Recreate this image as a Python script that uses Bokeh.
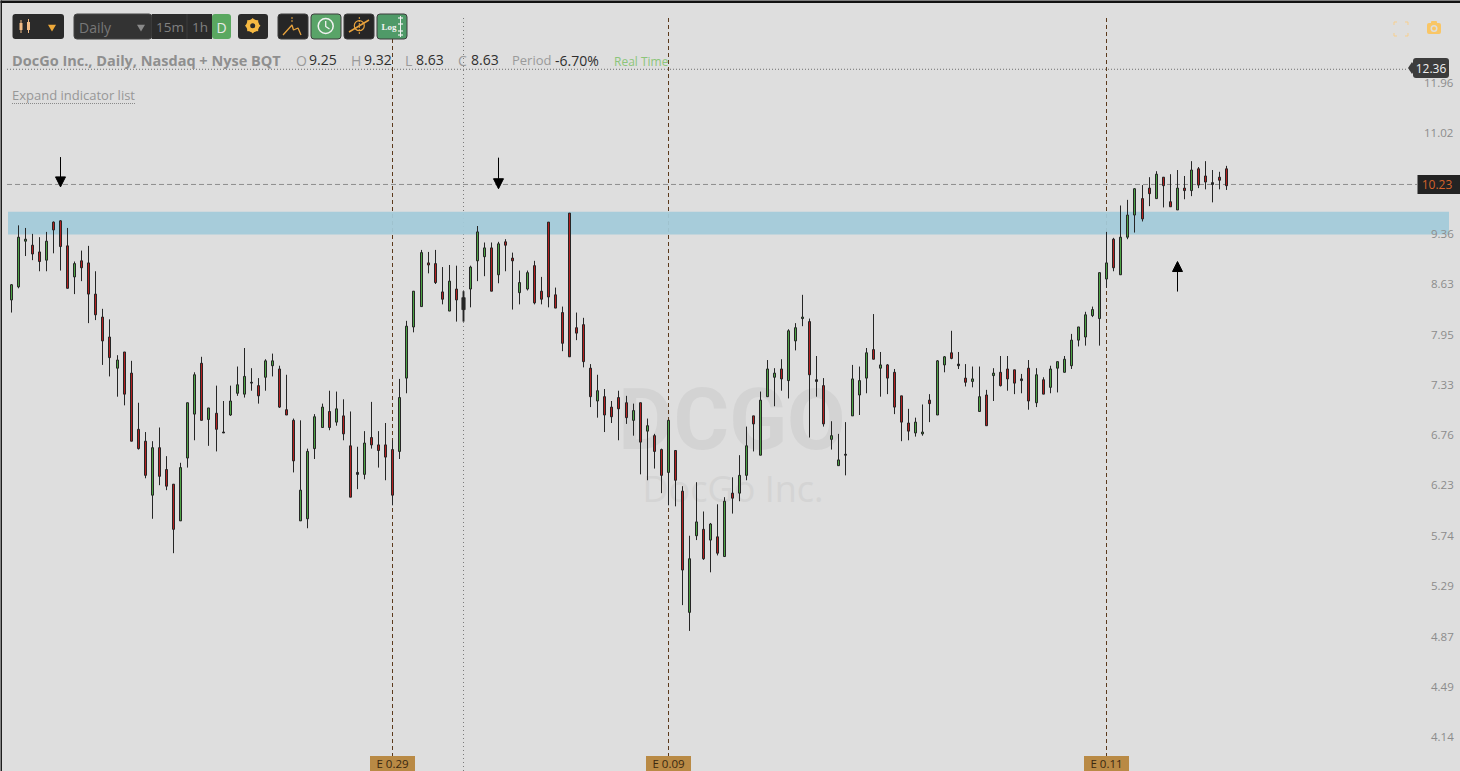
from bokeh.plotting import figure
from bokeh.models import Range1d, LinearScale, LogAxis, FixedTicker, PrintfTickFormatter, BoxAnnotation, Arrow, NormalHead
from bokeh.core.properties import value
from bokeh.embed import file_html
from bokeh.resources import INLINE

HIGH = [
8.63,9.49,9.45,9.36,9.31,9.39,9.55,9.57,9.45,8.95,
9.11,9.18,8.81,8.29,8.15,7.69,7.73,7.62,7.12,6.79,
6.69,6.84,6.53,6.24,6.46,7.12,7.48,7.67,7.06,7.32,
7.14,7.32,7.55,7.78,7.53,7.41,7.64,7.71,7.56,7.45,
6.94,6.92,6.61,6.99,7.11,7.26,7.25,7.16,7.02,6.63,
6.80,7.13,6.80,6.89,6.70,7.40,8.13,8.53,9.12,9.09,
9.12,8.87,8.90,8.89,8.53,8.89,9.48,9.23,9.23,9.24,
9.28,9.08,8.82,8.82,8.96,8.73,9.54,8.58,8.32,9.68,
8.24,8.17,7.58,7.45,7.28,7.14,7.26,7.20,7.11,7.12,
6.94,6.77,6.61,6.92,6.59,6.22,5.74,6.26,5.97,5.86,
6.04,6.11,6.31,6.54,6.85,6.97,7.25,7.63,7.53,7.64,
8.02,8.10,8.48,8.16,7.68,7.41,6.91,6.77,6.90,7.57,
7.55,7.78,8.22,7.73,7.58,7.52,7.20,7.05,6.95,7.10,
7.22,7.63,7.68,8.00,7.73,7.58,7.55,7.55,7.27,7.53,
7.68,7.68,7.51,7.46,7.63,7.53,7.42,7.56,7.61,7.68,
7.96,8.05,8.25,8.32,8.79,9.39,9.30,9.80,9.89,10.08,
10.13,10.26,10.36,10.26,10.31,10.38,10.28,10.53,10.43,10.53,
10.38,10.35,10.45]

BODY_UPPER = [
8.62,9.31,9.28,9.19,9.09,9.25,9.54,9.56,9.18,8.92,
8.96,8.93,8.49,8.18,7.92,7.63,7.73,7.47,6.82,6.69,
6.62,6.62,6.39,6.24,6.41,7.12,7.45,7.59,7.06,7.00,
6.79,7.14,7.33,7.43,7.36,7.32,7.62,7.62,7.52,7.04,
6.92,6.18,6.58,6.96,7.07,7.02,7.05,6.97,6.64,6.36,
6.67,6.73,6.65,6.65,6.60,7.18,8.06,8.53,9.08,8.93,
8.92,8.52,8.67,8.56,8.44,8.87,9.39,9.15,9.15,9.21,
9.24,9.00,8.65,8.79,8.89,8.53,9.54,8.48,8.24,9.68,
8.04,8.08,7.53,7.26,7.19,7.07,7.18,7.12,7.03,7.12,
6.86,6.75,6.60,6.92,6.59,6.17,5.53,5.87,5.80,5.85,
5.73,6.07,6.15,6.33,6.64,6.97,7.15,7.52,7.47,7.52,
8.00,8.04,8.18,8.12,7.39,7.32,6.75,6.49,6.55,7.40,
7.38,7.72,7.76,7.57,7.57,7.48,7.20,6.89,6.90,6.79,
7.15,7.62,7.67,7.72,7.58,7.41,7.40,7.19,7.21,7.47,
7.48,7.52,7.51,7.40,7.53,7.45,7.39,7.52,7.61,7.64,
7.88,8.05,8.21,8.28,8.79,8.93,9.28,9.31,9.65,10.07,
9.91,10.08,10.31,10.26,9.86,10.08,10.08,10.38,10.40,10.28,
10.17,10.26,10.40]

BODY_LOWER = [
8.41,8.59,9.25,9.06,8.95,8.97,9.42,9.17,8.57,8.73,
8.86,8.49,8.21,7.87,7.66,7.53,7.22,6.69,6.61,6.33,
6.13,6.32,6.22,5.80,5.88,6.51,6.99,6.92,6.93,6.82,
6.78,6.98,7.23,7.22,7.35,7.20,7.42,7.56,7.07,6.98,
6.48,5.88,5.90,6.61,6.84,6.84,6.90,6.77,6.11,6.34,
6.34,6.65,6.59,6.52,6.13,6.58,7.41,8.05,8.32,8.90,
8.65,8.42,8.26,8.41,8.28,8.56,8.96,9.02,8.53,8.76,
9.19,8.96,8.51,8.56,8.37,8.42,8.45,8.30,7.84,7.67,
7.97,7.61,7.19,7.14,6.98,6.96,7.05,6.95,6.92,6.68,
6.80,6.58,6.33,6.36,6.28,5.43,5.07,5.74,5.53,5.70,
5.58,5.55,6.10,6.15,6.33,6.88,6.54,7.19,7.42,7.40,
7.38,7.87,8.16,7.45,7.37,6.88,6.71,6.43,6.54,6.97,
7.21,7.41,7.64,7.53,7.41,7.07,6.90,6.80,6.78,6.77,
7.11,6.98,7.57,7.65,7.56,7.36,7.37,7.02,6.86,7.44,
7.32,7.40,7.35,7.38,7.14,7.12,7.22,7.30,7.53,7.48,
7.56,7.88,7.92,8.20,8.16,8.70,8.86,8.76,9.31,9.65,
9.59,9.99,9.91,10.12,9.78,9.73,10.04,10.04,10.13,10.18,
10.14,10.21,10.12]

LOW = [
8.24,8.57,9.03,8.97,8.81,8.81,9.07,8.82,8.57,8.49,
8.67,8.10,8.14,7.57,7.43,7.19,7.09,6.69,6.60,6.30,
5.90,6.23,6.18,5.58,5.88,6.41,6.70,6.92,6.64,6.58,
6.78,6.97,7.20,7.18,7.26,7.11,7.26,7.43,7.06,6.98,
6.36,5.88,5.81,6.50,6.84,6.81,6.86,6.70,6.11,6.19,
6.29,6.61,6.41,6.28,6.03,6.50,7.23,7.98,8.32,8.78,
8.63,8.35,8.26,8.12,8.12,8.31,8.67,8.74,8.53,8.64,
8.81,8.28,8.35,8.54,8.35,8.35,8.31,8.30,7.74,7.67,
7.88,7.54,7.07,6.95,6.79,6.89,6.70,6.88,6.75,6.34,
6.28,6.40,6.15,6.03,6.02,5.13,4.92,5.70,5.52,5.41,
5.56,5.55,5.95,6.07,6.28,6.58,6.54,7.19,7.08,7.26,
7.17,7.75,8.06,6.73,7.19,6.85,6.60,6.43,6.33,6.97,
6.98,7.23,7.64,7.19,7.22,6.99,6.69,6.70,6.74,6.75,
6.90,6.98,7.48,7.64,7.52,7.31,7.30,7.02,6.86,7.14,
7.31,7.26,7.22,7.23,7.04,7.07,7.22,7.23,7.24,7.48,
7.52,7.80,7.81,8.18,7.81,8.58,8.81,8.76,9.28,9.38,
9.55,9.79,9.91,9.77,9.78,9.73,9.90,9.95,10.08,10.06,
9.85,10.06,10.05]

# G up, R down, D doji, H the candle under the cursor
DIRECTION = ("GGGRRGRRRG" "RRRRRGRRRR" "GRRRGGGRGR" "DGGGDRGGRR" "RGGGGRGRRD"
             "GRRRRGGGGR" "RRGRHGGGRG" "RRGGRRRRRR" "RRRGRRRRGR" "GRRGRRGGRG"
             "RGRGGRGGGR" "GGGRDRGGDG" "GGRGRRRRGG" "RGGRDRGGRG" "RRRDRGRGGG"
             "GGGGGGRGGG" "RRGRRGRGRR" "DRR")

AXIS_TICKS_WIDE = [11.96, 11.02]
AXIS_TICKS = [9.36, 8.63, 7.95, 7.33, 6.76, 6.23, 5.74, 5.29, 4.87, 4.49, 4.14]
ZONE_TOP, ZONE_BOTTOM = 9.70, 9.35
LAST_LEVEL, HIGH_LEVEL = 10.14, 12.22
EARNINGS_SESSION = [54, 93, 155]
EARNINGS_LABEL = ["E 0.29", "E 0.09", "E 0.11"]
CURSOR_SESSION = 64
ARROW_SESSION = [7, 69, 165]
ARROW_FROM = [10.60, 10.59, 8.525]
ARROW_TO = [10.10, 10.07, 8.95]

W, H = 1460, 771
FONT = "Open Sans"
SPACING = 7.069


def session_x(i):
    return 11.5 + int(i * SPACING)


p = figure(width=W, height=H, output_backend="svg", toolbar_location=None,
           x_range=Range1d(0.5, W + 0.5), y_range=Range1d(3.918, 13.66), y_axis_type="log",
           y_axis_location="right", min_border=0, min_border_left=0, min_border_right=0,
           min_border_top=0, min_border_bottom=0, outline_line_color=None,
           background_fill_color="#dedede", border_fill_color="#dedede")
p.extra_y_ranges["px"] = Range1d(H + 0.5, 0.5)
p.extra_y_scales["px"] = LinearScale()
p.xaxis.visible = False
p.grid.visible = False


def style_axis(ax, ticks, where):
    ax.ticker = FixedTicker(ticks=ticks)
    ax.formatter = PrintfTickFormatter(format="%.2f")
    ax.fixed_location = where
    ax.major_tick_line_color = None
    ax.minor_tick_line_color = None
    ax.axis_line_color = None
    ax.major_label_standoff = 0
    ax.major_label_text_color = "#8c8c8c"
    ax.major_label_text_font = FONT
    ax.major_label_text_font_size = "11.5px"


style_axis(p.yaxis[0], AXIS_TICKS, 1425)
wide_axis = LogAxis()
style_axis(wide_axis, AXIS_TICKS_WIDE, 1418)
p.add_layout(wide_axis, "right")


def text(x, y, s, color, size, align="left", style="normal", font=FONT, level="overlay"):
    p.text(x=[x], y=[y], text=[s], y_range_name="px", text_color=color,
           text_font=value(font), text_font_size=f"{size}px", text_font_style=style,
           text_align=align, text_baseline="middle", level=level)


def box(l, t, r, b, color, radius=3, line=None):
    p.add_layout(BoxAnnotation(left=l, right=r, top=t, bottom=b, y_range_name="px",
                               fill_color=color, fill_alpha=1, line_color=line,
                               line_alpha=1, line_width=1, border_radius=radius))


def seg(x0, y0, x1, y1, color, width=1, dash="solid"):
    p.segment(x0=[x0], y0=[y0], x1=[x1], y1=[y1], y_range_name="px", line_color=color,
              line_width=width, line_dash=dash, level="overlay")


def poly(xs, ys, color, width=1.3):
    p.line(x=xs, y=ys, y_range_name="px", line_color=color, line_width=width, level="overlay")


def mark(x, y, marker, size, fill, line=None, width=1, angle=0):
    p.scatter(x=[x], y=[y], marker=marker, size=size, y_range_name="px", fill_color=fill,
              line_color=line, line_width=width, angle=angle, level="overlay")


# watermark
text(732, 420, "DCGO", "#d3d3d3", 85, "center", "bold", "Roboto", "glyph")
text(733, 488, "DocGo Inc.", "#d4d4d4", 36, "center", "normal", FONT, "glyph")

# earnings and cursor verticals
ex = [session_x(i) for i in EARNINGS_SESSION]
p.segment(x0=ex, y0=[18] * 3, x1=ex, y1=[756] * 3, y_range_name="px",
          line_color="#5c3a1c", line_width=1, line_dash="4 3")
cx = session_x(CURSOR_SESSION)
p.segment(x0=[cx], y0=[18], x1=[cx], y1=[H], y_range_name="px",
          line_color="#7a7a7a", line_width=1, line_dash="1 3")

# resistance zone
p.quad(left=[8], right=[1449], top=[ZONE_TOP], bottom=[ZONE_BOTTOM],
       fill_color="#a4cbda", fill_alpha=0.94, line_color=None)

# price lines
p.segment(x0=[7], y0=[LAST_LEVEL], x1=[1417], y1=[LAST_LEVEL], line_color="#8e8e8e",
          line_width=1, line_dash="5 3")
p.segment(x0=[7], y0=[HIGH_LEVEL], x1=[1408], y1=[HIGH_LEVEL], line_color="#6e6e6e",
          line_width=1, line_dash="1 2")

# candles
xs = [session_x(i) for i in range(len(HIGH))]
FILL = {"G": "#4da245", "R": "#b31f1f", "D": "#262626", "H": "#262626"}
p.segment(x0=xs, y0=HIGH, x1=xs, y1=LOW, line_color="#262626", line_width=1)
p.vbar(x=xs, width=2, top=BODY_UPPER, bottom=BODY_LOWER,
       fill_color=[FILL[d] for d in DIRECTION], line_color="#262626", line_width=1)

# cursor glow on the hovered candle
i = CURSOR_SESSION
p.segment(x0=[xs[i]], y0=[HIGH[i]], x1=[xs[i]], y1=[LOW[i]], line_color="#262626",
          line_width=3, line_alpha=0.45)
p.vbar(x=[xs[i]], width=4, top=[BODY_UPPER[i]], bottom=[BODY_LOWER[i]], fill_color="#262626",
       fill_alpha=0.6, line_color="#262626", line_alpha=0.4)

# analyst arrows
for s, a, b in zip(ARROW_SESSION, ARROW_FROM, ARROW_TO):
    p.add_layout(Arrow(x_start=session_x(s), y_start=a, x_end=session_x(s), y_end=b,
                       line_color="black", line_width=1,
                       end=NormalHead(size=10, fill_color="black", line_color="black", line_width=1)))

# window chrome
box(0, 0, W, 3, "#121212", 0)
box(0, 0, 2, H, "#1e1e1e", 0)

# toolbar
box(12.5, 14, 64, 39, "#2a2a2a")
for x, t, b in [(21, 20, 33), (28.5, 19, 33)]:
    seg(x, t, x, b, "#f3bc85", 1)
    seg(x, t + 3, x, b - 3, "#f3bc85", 3)
mark(52, 27, "inverted_triangle", 8, "#eea93a")
box(74, 14, 152, 39, "#333333", 3, "#454545")
text(79, 27, "Daily", "#777777", 14)
mark(141, 27, "inverted_triangle", 8, "#8a8a8a")
box(152, 14, 212, 39, "#2b2b2b", 0)
seg(187, 14, 187, 39, "#3d3d3d")
text(156, 27, "15m", "#808080", 13.5)
text(192, 27, "1h", "#808080", 13.5)
box(212, 14, 231, 39, "#5aa860", 3)
text(221.5, 27, "D", "#e8e8e8", 14, "center")
box(238, 14, 268, 39, "#2a2a2a")
for ang in (0, 0.7854):
    mark(252.7, 25.7, "square", 11, "#f5b942", None, 1, ang)
mark(252.7, 25.7, "circle", 13, "#f5b942")
mark(252.7, 25.7, "circle", 5, "#2a2a2a")
box(278, 14, 308, 39, "#262626", 3, "#3c3c3c")
poly([283, 292, 293.5, 298, 301], [35, 25, 30, 28, 35], "#e8a33d")
seg(292, 17, 292, 22, "#e8a33d", 1, "2 1")
box(311, 14, 341, 39, "#59a468", 3, "#3c3c3c")
mark(325.7, 26, "circle", 15, None, "#f2f2f2", 1.5)
poly([325.7, 325.7, 329.5], [21, 26.5, 29], "#f2f2f2")
box(344, 14, 374, 39, "#262626", 3, "#3c3c3c")
mark(359.3, 25.7, "circle", 10, None, "#e8a33d", 1.2)
seg(349, 32, 369, 20, "#e8a33d", 1.5)
seg(359.3, 17, 359.3, 35, "#e8a33d", 1, "2 1")
box(377, 14, 407, 39, "#4f9a68", 3, "#3c3c3c")
text(381.5, 27, "Log", "#f2f2f2", 9, "left", "bold", "Liberation Serif")
seg(400.5, 16, 400.5, 37, "#f2f2f2")
for y in (18, 24, 31, 35):
    seg(398, y, 403, y, "#f2f2f2", 1.2)

# legend line
text(12, 60, "DocGo Inc., Daily, Nasdaq + Nyse BQT", "#8f8f8f", 14.5, style="bold")
GREY, DARK = "#9a9a9a", "#2e2e2e"
for x, s, c in [(296, "O", GREY), (309, "9.25", DARK), (351, "H", GREY), (364, "9.32", DARK),
                (405, "L", GREY), (416, "8.63", DARK), (458, "C", GREY), (471, "8.63", DARK),
                (555, "-6.70%", DARK)]:
    text(x, 60, s, c, 14)
text(512, 60, "Period", GREY, 13)
text(614, 61, "Real Time", "#8cc57a", 12)
text(12, 95, "Expand indicator list", "#979797", 13)
seg(12, 103.5, 136, 103.5, "#8a8a8a", 1, "1 1")

# price tags
mark(1412, 68, "diamond", 12, "#3c3c3c")
box(1413, 58, 1449, 78, "#3c3c3c")
text(1431, 68, "12.36", "#f0f0f0", 12, "center")
box(1417.5, 175, W, 194, "#232323", 0)
text(1437, 184, "10.23", "#d2622a", 12, "center")

# screen icons
FC = "#f7cf8e"
for (x, y, dx, dy) in [(1394, 22, 1, 1), (1408, 22, -1, 1), (1394, 36, 1, -1), (1408, 36, -1, -1)]:
    poly([x + 3 * dx, x, x], [y, y, y + 3 * dy], FC, 1)
box(1427, 23, 1441, 34, "#f9c666", 2)
box(1431, 21, 1437, 24, "#f9c666", 1)
mark(1434, 28.5, "circle", 7, "#dedede")
mark(1434, 28.5, "circle", 4, "#f9c666")

# earnings tags
for x, s in zip(ex, EARNINGS_LABEL):
    box(x - 22.5, 756, x + 22.5, H, "#b98a45", 0)
    text(x, 763.5, s, "#3a2810", 11.5, "center")

open("out.html", "w").write(file_html(p, INLINE))
